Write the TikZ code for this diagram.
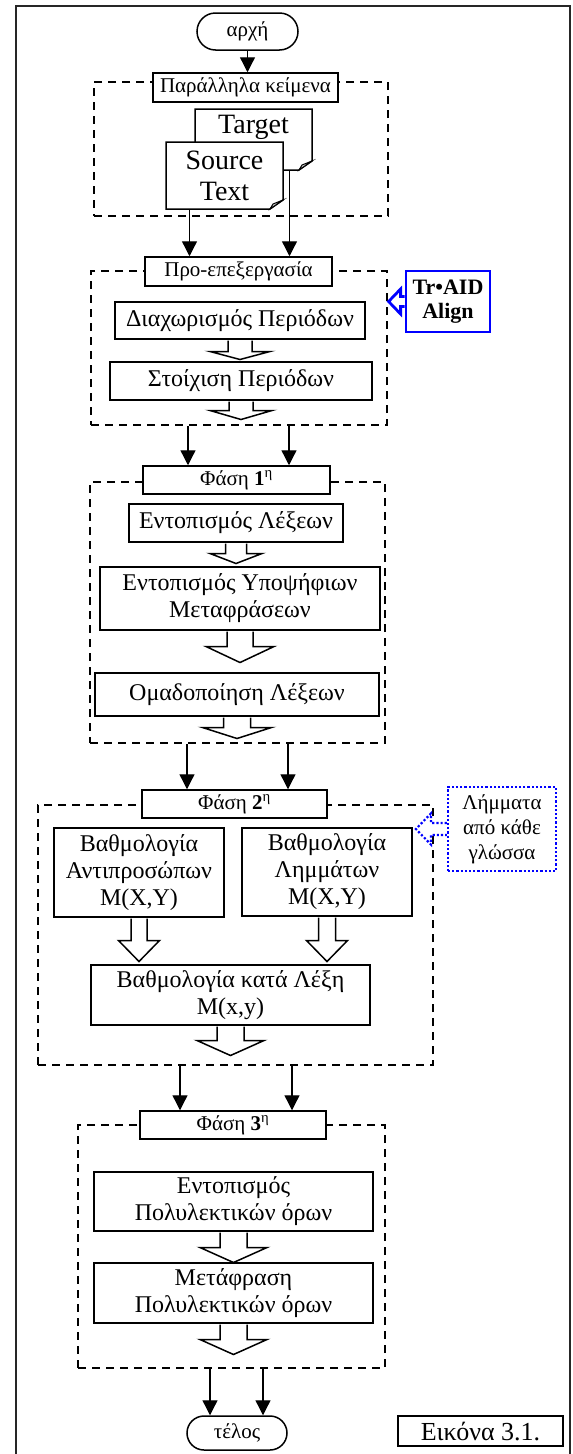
\documentclass[tikz,border=0pt]{standalone}
\usepackage{fontspec}
\setmainfont{Liberation Serif}
\usetikzlibrary{arrows.meta, positioning, shapes.misc, calc}

% hollow block arrow below a node: node, shaft half, head half, shaft length, head length
\newcommand{\hollowdown}[5]{%
  \draw[hollow] ($(#1.south)+(-#2,0.75)$) -- ++(0,#4) -- ++(#2-#3,0) -- ++(#3,#5) -- ++(#3,-#5) -- ++(#2-#3,0) -- ++(0,-#4);}
% hollow block arrow left of a node, style as last argument
\newcommand{\hollowleft}[6]{%
  \draw[#6] ($(#1.west)+(0,-#2)$) -- ++(-#4,0) -- ++(0,#2-#3) -- ++(-#5,#3) -- ++(#5,#3) -- ++(0,#2-#3) -- ++(#4,0);}
% sheet with a folded corner: centre, half width, half height
\newcommand{\docshape}[3]{%
  \draw[sheet] ($(#1)+(-#2,-#3)$) -- ++(2*#2,0) -- ++(0,2*#3-9) -- ++(-13,9) -- ++(-2*#2+13,0) -- cycle;
  \draw[fold] ($(#1)+(#2,#3-9)$) -- ++(-13,9) -- ++(3,-5) -- cycle;}

\begin{document}
\begin{tikzpicture}[
        x=1pt, y=-1pt,
        box/.style={draw, line width=1.5pt, fill=white, inner sep=0pt, align=center, font=\fontsize{24}{27}\selectfont},
        tag/.style={box, font=\fontsize{21}{24}\selectfont},
        term/.style={rounded rectangle, draw, line width=1.5pt, fill=white, inner sep=0pt, font=\fontsize{21}{24}\selectfont},
        grp/.style={draw, line width=1.5pt, dash pattern=on 8pt off 6pt, inner sep=0pt},
        sheet/.style={draw, line width=1.5pt, fill=white, line join=miter},
        fold/.style={draw, line width=1pt, fill=gray!35},
        doctext/.style={inner sep=0pt, align=center, font=\fontsize{28}{31}\selectfont},
        flow/.style={-{Triangle[length=15pt,width=15pt]}, line width=1.3pt},
        hollow/.style={draw, fill=white, line width=1.5pt, line join=miter},
        tool/.style={draw=blue, line width=2.8pt, fill=white, inner sep=0pt, align=center},
        lemma/.style={draw=blue, line width=2.2pt, dash pattern=on 2.2pt off 2pt, fill=white, inner sep=0pt, align=center},
        toolarrow/.style={draw=blue, fill=white, line width=2.8pt, line join=miter},
        lemmaarrow/.style={draw=blue, fill=white, line width=2.2pt, dash pattern=on 2.2pt off 2pt}
    ]
    \useasboundingbox (0,0) rectangle (573,1454);

    % outer frame, open at the bottom
    \draw[line width=2.5pt, black!85] (16,1460) -- (16,6) -- (570,6) -- (570,1460);

    % dashed groups
    \node[grp, minimum width=294pt, minimum height=134pt] (g1) at (241,149) {};
    \node[grp, minimum width=296pt, minimum height=154pt] (g2) at (239,348) {};
    \node[grp, minimum width=295pt, minimum height=261pt] (g3) at (237.5,612.5) {};
    \node[grp, minimum width=395pt, minimum height=260pt] (g4) at (235.5,935) {};
    \node[grp, minimum width=307pt, minimum height=243pt] (g5) at (231.5,1246.5) {};

    % start and input texts
    \node[term, minimum width=101pt, minimum height=37pt] (start) at (247.5,31.5) {αρχή};
    \node[tag, minimum width=185pt, minimum height=29pt] (par) at (245.5,87.5) {Παράλληλα κείμενα};

    \coordinate (tgtc) at (253.5,139.5);
    \docshape{tgtc}{58.5}{30.5}
    \node[doctext, minimum width=117pt, minimum height=61pt] (tgt) at (tgtc) {Target\\\phantom{Text}};
    \coordinate (srcc) at (224.5,175.5);
    \docshape{srcc}{58.5}{33.5}
    \node[doctext, minimum width=117pt, minimum height=67pt] (src) at (srcc) {Source\\Text};

    % pre-processing
    \node[tag, minimum width=187pt, minimum height=29pt] (pre) at (238.5,271.5) {Προ-επεξεργασία};
    \node[box, minimum width=250pt, minimum height=37pt] (split) at (240,320.5) {Διαχωρισμός Περιόδων};
    \node[box, minimum width=262pt, minimum height=38pt] (sent) at (241,381) {Στοίχιση Περιόδων};
    \node[tool, minimum width=84pt, minimum height=61pt, font=\bfseries\fontsize{22}{24}\selectfont] (traid) at (448,301.5) {Tr•AID\\Align};

    % phase 1
    \node[tag, minimum width=187pt, minimum height=28pt] (ph1) at (236.5,480) {Φάση \textbf{1}\textsuperscript{η}};
    \node[box, minimum width=214pt, minimum height=38pt] (words) at (236,523) {Εντοπισμός Λέξεων};
    \node[box, minimum width=280pt, minimum height=63pt] (cand) at (240,598.5) {Εντοπισμός Υποψήφιων\\Μεταφράσεων};
    \node[box, minimum width=284pt, minimum height=43pt] (clus) at (237,694.5) {Ομαδοποίηση Λέξεων};

    % phase 2
    \node[tag, minimum width=185pt, minimum height=28pt] (ph2) at (234.5,804) {Φάση \textbf{2}\textsuperscript{η}};
    \node[box, minimum width=170pt, minimum height=89pt] (rep) at (139,872.5) {Βαθμολογία\\Αντιπροσώπων\\M(X,Y)};
    \node[box, minimum width=170pt, minimum height=88pt] (lemsc) at (327,872) {Βαθμολογία\\Λημμάτων\\M(X,Y)};
    \node[box, minimum width=279pt, minimum height=60pt] (perword) at (230.5,995) {Βαθμολογία κατά Λέξη\\M(x,y)};
    \node[lemma, minimum width=108pt, minimum height=84pt, font=\fontsize{21}{25}\selectfont] (lem) at (502,829) {Λήμματα\\από κάθε\\γλώσσα};

    % phase 3
    \node[tag, minimum width=186pt, minimum height=28pt] (ph3) at (233,1125) {Φάση \textbf{3}\textsuperscript{η}};
    \node[box, minimum width=279pt, minimum height=59pt] (mwe) at (233.5,1201.5) {Εντοπισμός\\Πολυλεκτικών όρων};
    \node[box, minimum width=279pt, minimum height=60pt] (mwtr) at (233.5,1293) {Μετάφραση\\Πολυλεκτικών όρων};

    % end and caption
    \node[term, minimum width=100pt, minimum height=34pt] (end) at (237,1433) {τέλος};
    \node[box, minimum width=165pt, minimum height=30pt, font=\fontsize{26}{28}\selectfont] (fig) at (480.5,1431) {Εικόνα 3.1.};

    % Arrows
    \draw[flow] (start.south) -- (start.south |- par.north);
    \draw[flow] ($(src.south)+(-35,0)$) coordinate (a) -- (a |- pre.north);
    \draw[flow] ($(tgt.south)+(36,0)$) coordinate (a) -- (a |- pre.north);
    \foreach \dx in {-51,50} \draw[flow] ($(g2.south)+(\dx,0)$) coordinate (a) -- (a |- ph1.north);
    \foreach \dx in {-50.5,50.5} \draw[flow] ($(g3.south)+(\dx,0)$) coordinate (a) -- (a |- ph2.north);
    \foreach \dx in {-55.5,56.5} \draw[flow] ($(g4.south)+(\dx,0)$) coordinate (a) -- (a |- ph3.north);
    \foreach \dx in {-27,26} \draw[flow] ($(end.north |- g5.south)+(\dx,0)$) coordinate (a) -- (a |- end.north);

    % block arrows
    \hollowdown{split}{12}{30}{11}{8}
    \hollowdown{sent}{12}{31}{9}{9}
    \hollowdown{words}{10.5}{26}{10}{10}
    \hollowdown{cand}{13}{34}{15}{16}
    \hollowdown{clus}{13.5}{34.5}{10}{11}
    \hollowdown{rep}{8}{20.5}{22}{21}
    \hollowdown{lemsc}{8.5}{20.5}{23}{21}
    \hollowdown{perword}{13.5}{33.5}{14}{15}
    \hollowdown{mwe}{13.5}{33.5}{15}{15}
    \hollowdown{mwtr}{13.5}{33.5}{15}{15}

    % external inputs
    \hollowleft{traid}{5}{12.5}{4}{12}{toolarrow}
    \hollowleft{lem}{6}{15.5}{16}{15}{lemmaarrow}

\end{tikzpicture}
\end{document}
